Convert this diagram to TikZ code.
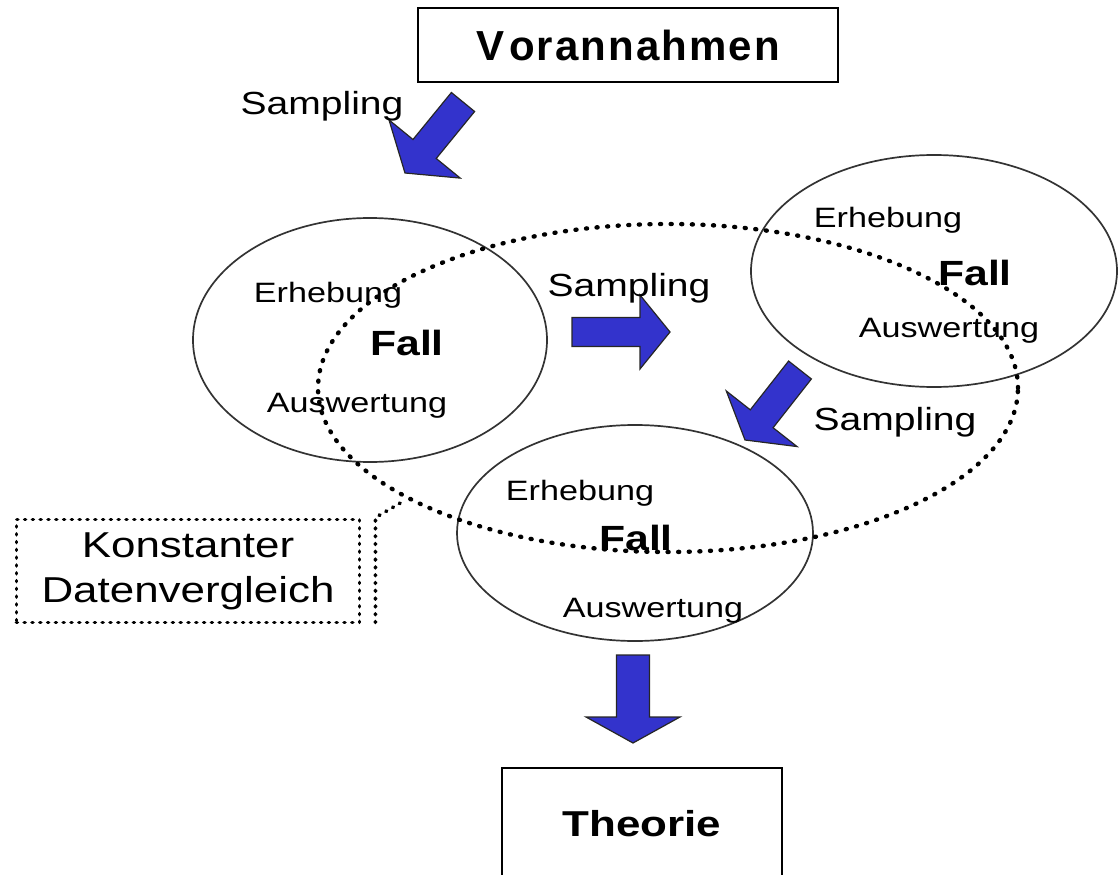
\documentclass[tikz,border=0pt]{standalone}
\usepackage{fontspec}
\setmainfont{Liberation Sans}
\newfontfamily\widesf[FakeStretch=1.22]{Liberation Sans}
\newfontfamily\spacedsf[LetterSpace=5]{Liberation Sans}
\usepackage{tikz}
\usetikzlibrary{calc}
\usetikzlibrary{shapes.geometric}
\definecolor{arrowblue}{RGB}{51,51,204}
\tikzstyle{box}=[draw, rectangle, line width=2.2pt, inner sep=0pt]
\tikzstyle{fall}=[draw=black!80, ellipse, line width=1.7pt, inner sep=0pt]
\tikzstyle{dots}=[draw, line width=4.4pt, line cap=round, dash pattern=on 1pt off 9.6pt]
\tikzstyle{konst}=[dots, ellipse, inner sep=0pt]
\tikzstyle{boxdots}=[draw, line width=3.8pt, line cap=round, dash pattern=on 0.8pt off 7pt]
\tikzstyle{lbl}=[anchor=base, inner sep=0pt, font=\widesf\fontsize{28}{30}\selectfont]
\tikzstyle{smp}=[lbl, font=\widesf\fontsize{32}{34}\selectfont]
\tikzstyle{fl}=[lbl, font=\widesf\bfseries\fontsize{35}{37}\selectfont]
\tikzstyle{blockarr}=[fill=arrowblue, draw=black!85, line width=1.2pt, line join=miter]
% block arrow: tail, tip, shaft half width, head half width, head length
\def\blockarrow#1#2#3#4#5{%
  \coordinate (#2-base) at ($(#2)!#5!(#1)$);
  \filldraw [blockarr] ($(#1)!#3!90:(#2)$) -- ($(#2-base)!#3!90:(#2)$) -- ($(#2-base)!#4!90:(#2)$)
    -- (#2) -- ($(#2-base)!#4!-90:(#2)$) -- ($(#2-base)!#3!-90:(#2)$) -- ($(#1)!#3!-90:(#2)$) -- cycle;}
\begin{document}
\begin{tikzpicture}[x=1pt, y=-1pt]
    \useasboundingbox (0,0) rectangle (1120,875);

    \node [box, minimum width=420pt, minimum height=74pt, font=\spacedsf\bfseries\fontsize{42}{44}\selectfont] (vor) at (628,45) {V\kern5pt orannahmen};
    \node [box, minimum width=280pt, minimum height=112pt, font=\widesf\bfseries\fontsize{36}{38}\selectfont] (theo) at (642,824) {Theorie};

    % cases
    \node [fall, minimum width=354pt, minimum height=244pt] (f1) at (370,340) {};
    \node [fall, minimum width=366pt, minimum height=232pt] (f2) at (934,271) {};
    \node [fall, minimum width=356pt, minimum height=216pt] (f3) at (635,533) {};

    \node [lbl] (e1) at (328,302) {Erhebung};
    \node [fl]  (c1) at (407,355) {Fall};
    \node [lbl] (w1) at (357,412) {Auswertung};
    \node [lbl] (e2) at (888,227) {Erhebung};
    \node [fl]  (c2) at (975,285) {Fall};
    \node [lbl] (w2) at (949,337) {Auswertung};
    \node [lbl] (e3) at (580,500) {Erhebung};
    \node [fl]  (c3) at (636,550) {Fall};
    \node [lbl] (w3) at (653,617) {Auswertung};

    % constant comparison
    \node [konst, minimum width=700pt, minimum height=328pt] (vgl) at (668,388) {};
    \node [boxdots, rectangle, minimum width=343pt, minimum height=103pt, align=center,
           font=\widesf\fontsize{36}{45}\selectfont] (kd) at (188,571) {Konstanter\\Datenvergleich};
    \coordinate (kdtip) at (402,502);
    \draw [boxdots] ([xshift=14pt, yshift=2pt]kd.south east) -- ([xshift=14pt]kd.north east) -- (kdtip);

    % sampling arrows
    \coordinate (a1t) at (463,102);  \coordinate (a1) at (405,173);
    \coordinate (a2t) at (572,332);  \coordinate (a2) at (670,332);
    \coordinate (a3t) at (800,370);  \coordinate (a3) at (745,440);
    \coordinate (a4t) at (633,655);  \coordinate (a4) at (633,743);
    \blockarrow{a1t}{a1}{15pt}{46pt}{31pt}
    \blockarrow{a2t}{a2}{14.5pt}{37pt}{30pt}
    \blockarrow{a3t}{a3}{14.5pt}{45pt}{27pt}
    \blockarrow{a4t}{a4}{16.5pt}{47pt}{26pt}

    \node [smp] (s1) at (322,114) {Sampling};
    \node [smp] (s2) at (629,296) {Sampling};
    \node [smp] (s3) at (895,430) {Sampling};

\end{tikzpicture}
\end{document}
